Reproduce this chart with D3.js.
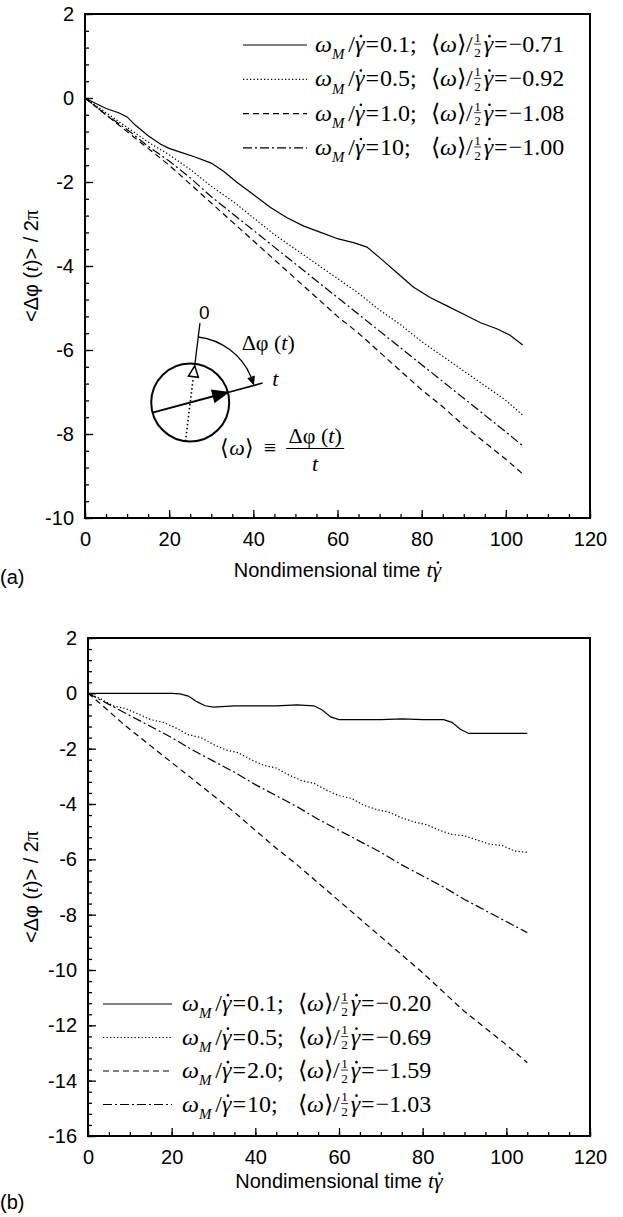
<!DOCTYPE html>
<html>
<head>
<meta charset="utf-8">
<script src="https://cdn.jsdelivr.net/npm/d3@7"></script>
<style>
  body { margin: 0; background: #fff; }
</style>
</head>
<body>
<svg id="chart" width="623" height="1217"></svg>
<script>
/* ---- data ---- */
const ticksX = [0, 20, 40, 60, 80, 100, 120];
const ticksYa = [2, 0, -2, -4, -6, -8, -10];
const ticksYb = [2, 0, -2, -4, -6, -8, -10, -12, -14, -16];

// panel (a): [t, <dphi>/2pi]
const a01 = [[0,0],[2,-0.1],[5,-0.25],[8,-0.35],[10,-0.45],[12,-0.65],[15,-0.9],[18,-1.1],[20,-1.2],[23,-1.3],[26,-1.4],[30,-1.55],[33,-1.75],[36,-2.0],[40,-2.3],[44,-2.6],[48,-2.85],[52,-3.05],[56,-3.2],[60,-3.35],[64,-3.45],[67,-3.55],[70,-3.8],[74,-4.15],[78,-4.5],[82,-4.75],[86,-4.95],[90,-5.15],[94,-5.35],[98,-5.5],[101,-5.65],[104,-5.88]];
const a05 = [[0,0],[5,-0.35],[10,-0.7],[15,-1.05],[20,-1.35],[25,-1.7],[30,-2.1],[35,-2.45],[40,-2.85],[45,-3.25],[50,-3.6],[55,-3.95],[60,-4.3],[65,-4.65],[70,-5.05],[75,-5.4],[80,-5.8],[85,-6.15],[90,-6.5],[95,-6.85],[100,-7.2],[104,-7.55]];
const a10 = [[0,0],[5,-0.4],[10,-0.8],[15,-1.2],[20,-1.6],[25,-2.05],[30,-2.5],[35,-2.95],[40,-3.4],[45,-3.85],[50,-4.3],[55,-4.75],[60,-5.2],[65,-5.6],[70,-6.05],[75,-6.5],[80,-6.95],[85,-7.35],[90,-7.8],[95,-8.2],[100,-8.6],[104,-8.95]];
const a100 = [[0,0],[5,-0.4],[10,-0.75],[15,-1.15],[20,-1.5],[25,-1.9],[30,-2.35],[35,-2.75],[40,-3.15],[45,-3.55],[50,-3.95],[55,-4.35],[60,-4.75],[65,-5.15],[70,-5.55],[75,-5.95],[80,-6.35],[85,-6.75],[90,-7.15],[95,-7.55],[100,-7.95],[104,-8.28]];

// panel (b)
const b01 = [[0,0],[5,0],[10,0],[15,0],[20,0],[22,-0.02],[24,-0.1],[26,-0.3],[28,-0.45],[30,-0.5],[35,-0.45],[40,-0.45],[45,-0.45],[50,-0.42],[54,-0.45],[56,-0.6],[58,-0.85],[60,-0.95],[65,-0.95],[70,-0.95],[75,-0.92],[80,-0.95],[85,-0.95],[87,-1.05],[89,-1.3],[91,-1.45],[95,-1.45],[100,-1.45],[105,-1.45]];
const b05 = [[0,0],[3,-0.2],[6,-0.45],[9,-0.55],[12,-0.75],[15,-0.95],[18,-1.05],[21,-1.25],[24,-1.5],[27,-1.6],[30,-1.85],[33,-2.05],[36,-2.15],[39,-2.4],[42,-2.6],[45,-2.7],[48,-2.95],[51,-3.15],[54,-3.25],[57,-3.5],[60,-3.7],[63,-3.8],[66,-4.05],[69,-4.2],[72,-4.3],[75,-4.5],[78,-4.65],[81,-4.75],[84,-4.95],[87,-5.1],[90,-5.15],[93,-5.3],[96,-5.45],[99,-5.5],[102,-5.7],[105,-5.75]];
const b20 = [[0,0],[2,-0.25],[5,-0.65],[8,-1.05],[10,-1.3],[15,-1.9],[20,-2.5],[25,-3.1],[30,-3.7],[35,-4.3],[40,-4.95],[45,-5.6],[50,-6.2],[55,-6.85],[60,-7.5],[65,-8.15],[70,-8.8],[75,-9.45],[80,-10.1],[85,-10.8],[90,-11.5],[95,-12.1],[100,-12.7],[105,-13.35]];
const b100 = [[0,0],[5,-0.4],[10,-0.8],[15,-1.2],[20,-1.6],[25,-2.05],[30,-2.45],[35,-2.85],[40,-3.3],[45,-3.7],[50,-4.1],[55,-4.55],[60,-4.95],[65,-5.35],[70,-5.75],[75,-6.2],[80,-6.6],[85,-7.0],[90,-7.45],[95,-7.85],[100,-8.25],[105,-8.65]];

const legendA = [["0.1", "0.71"], ["0.5", "0.92"], ["1.0", "1.08"], ["10", "1.00"]];
const legendB = [["0.1", "0.20"], ["0.5", "0.69"], ["2.0", "1.59"], ["10", "1.03"]];

const SANS = "'Liberation Sans', Arial, Helvetica, sans-serif";
const SERIF = "'Liberation Serif', 'Times New Roman', serif";
const DASH = { solid: null, dot: "1.3,2.2", dash: "6,4", dashdot: "9,3,2,3" };

const svg = d3.select('#chart');

let put = (g, x, y, txt, o = {}) => {
  let t = g.append('text')
    .attr('x', x).attr('y', y)
    .attr('font-family', o.font || SERIF)
    .attr('font-size', o.fs || 20)
    .attr('font-style', o.it ? 'italic' : 'normal')
    .attr('text-anchor', o.anchor || 'start')
    .text(txt);
  return t.node().getComputedTextLength();
};

// gamma with a dot on top
let gdot = (g, x, y, fs) => {
  let w = put(g, x, y, 'γ', { it: true, fs: fs });
  g.append('circle').attr('cx', x + w * 0.62).attr('cy', y - fs * 0.66).attr('r', 1.3).attr('fill', '#000');
  return w;
};

let mathRow = (g, x0, y, val, avg, off, fs) => {
  let x = x0;
  x += put(g, x, y, 'ω', { it: true, fs: fs });
  x += put(g, x, y + fs * 0.3, 'M', { it: true, fs: fs * 0.62 });
  x += 4;
  x += put(g, x, y, '/', { fs: fs });
  x += gdot(g, x, y, fs) + 1;
  x += put(g, x, y, '=', { fs: fs }) + 1;
  x += put(g, x, y, val + ';', { fs: fs });
  x = x0 + off;
  x += put(g, x, y, '⟨', { fs: fs });
  x += put(g, x, y, 'ω', { it: true, fs: fs });
  x += put(g, x, y, '⟩', { fs: fs });
  x += put(g, x, y, '/', { fs: fs });
  // small stacked 1/2
  let sf = fs * 0.55;
  put(g, x + 5, y - fs * 0.42, '1', { fs: sf, anchor: 'middle' });
  put(g, x + 5, y + fs * 0.2, '2', { fs: sf, anchor: 'middle' });
  g.append('line').attr('x1', x + 1.5).attr('x2', x + 8.5).attr('y1', y - fs * 0.33).attr('y2', y - fs * 0.33)
    .attr('stroke', '#000').attr('stroke-width', 0.8);
  x += 11;
  x += gdot(g, x, y, fs) + 1;
  x += put(g, x, y, '=', { fs: fs }) + 1;
  put(g, x, y, '−' + avg, { fs: fs });
};

let panel = (cfg) => {
  let g = svg.append('g');
  let x = d3.scaleLinear().domain([0, 120]).range([cfg.left, cfg.right]);
  let y = d3.scaleLinear().domain([cfg.ymin, 2]).range([cfg.bottom, cfg.top]);

  let minorX = d3.range(0, 25).map(i => i * 5);
  let minorY = d3.range(0, Math.round((2 - cfg.ymin) / 0.4) + 1).map(i => +(cfg.ymin + i * 0.4).toFixed(2));

  let clean = s => { s.select('.domain').remove(); s.selectAll('line').attr('stroke-width', 1.3); };

  g.append('g').attr('transform', `translate(0,${cfg.bottom})`)
    .call(d3.axisBottom(x).tickValues(minorX).tickSize(-4).tickFormat('')).call(clean);
  g.append('g').attr('transform', `translate(${cfg.left},0)`)
    .call(d3.axisLeft(y).tickValues(minorY).tickSize(-4).tickFormat('')).call(clean);

  let ax = g.append('g').attr('transform', `translate(0,${cfg.bottom})`)
    .call(d3.axisBottom(x).tickValues(ticksX).tickSize(-8).tickPadding(14).tickFormat(d => String(d))).call(clean);
  let ay = g.append('g').attr('transform', `translate(${cfg.left},0)`)
    .call(d3.axisLeft(y).tickValues(cfg.ticksY).tickSize(-8).tickPadding(11).tickFormat(d => String(d))).call(clean);
  [ax, ay].forEach(a => a.selectAll('text').attr('font-family', SANS).attr('font-size', 20).attr('fill', '#000'));

  g.append('rect')
    .attr('x', cfg.left).attr('y', cfg.top)
    .attr('width', cfg.right - cfg.left).attr('height', cfg.bottom - cfg.top)
    .attr('fill', 'none').attr('stroke', '#000').attr('stroke-width', 2);

  let line = d3.line().x(d => x(d[0])).y(d => y(d[1]));
  cfg.series.forEach(s => {
    g.append('path').datum(s.data)
      .attr('d', line)
      .attr('fill', 'none').attr('stroke', '#000').attr('stroke-width', 1.2)
      .attr('stroke-dasharray', DASH[s.style]);
  });

  // legend
  cfg.legend.forEach((row, i) => {
    let ly = cfg.legY + i * cfg.legStep;
    g.append('line').attr('x1', cfg.legX1).attr('x2', cfg.legX2).attr('y1', ly).attr('y2', ly)
      .attr('stroke', '#000').attr('stroke-width', 1.2).attr('stroke-dasharray', DASH[cfg.series[i].style]);
    mathRow(g, cfg.legText, ly + 7, row[0], row[1], 116, 24);
  });

  // axis titles
  let yl = g.append('text')
    .attr('transform', `translate(38,${(cfg.top + cfg.bottom) / 2}) rotate(-90)`)
    .attr('text-anchor', 'middle').attr('font-family', SANS).attr('font-size', 20);
  yl.append('tspan').text('<Δφ (');
  yl.append('tspan').attr('font-family', SERIF).attr('font-style', 'italic').text('t');
  yl.append('tspan').text(')> / 2');
  yl.append('tspan').attr('font-family', SERIF).text('π');

  let xl = g.append('g');
  let w = put(xl, 0, 0, 'Nondimensional time', { font: SANS, fs: 20 }) + 6;
  w += put(xl, w, 0, 't', { it: true, fs: 22 });
  w += gdot(xl, w, 0, 22);
  xl.attr('transform', `translate(${(cfg.left + cfg.right) / 2 - w / 2},${cfg.xlabY})`);

  put(g, 0, cfg.tagY, cfg.tag, { font: SANS, fs: 20 });

  return { x: x, y: y, g: g };
};

let pa = panel({
  left: 85, right: 590, top: 14, bottom: 518, ymin: -10, ticksY: ticksYa,
  series: [{ data: a01, style: 'solid' }, { data: a05, style: 'dot' }, { data: a10, style: 'dash' }, { data: a100, style: 'dashdot' }],
  legend: legendA, legY: 45, legStep: 34.3, legX1: 243, legX2: 307, legText: 315,
  xlabY: 577, tag: '(a)', tagY: 584
});

panel({
  left: 88, right: 590, top: 638, bottom: 1136, ymin: -16, ticksY: ticksYb,
  series: [{ data: b01, style: 'solid' }, { data: b05, style: 'dot' }, { data: b20, style: 'dash' }, { data: b100, style: 'dashdot' }],
  legend: legendB, legY: 1004, legStep: 33.5, legX1: 103, legX2: 172, legText: 182,
  xlabY: 1188, tag: '(b)', tagY: 1209
});

/* ---- inset sketch in panel (a) ---- */
(() => {
  let g = pa.g.append('g');
  let cx = pa.x(25), cy = pa.y(-7.25), R = 39;
  let a0 = 7 * Math.PI / 180, a1 = 75 * Math.PI / 180;
  let pt = (s, a) => [cx + s * Math.sin(a), cy - s * Math.cos(a)];
  let perp = (p, a, d) => [p[0] + d * Math.cos(a), p[1] + d * Math.sin(a)];
  let seg = (p, q, wdt, dash) => g.append('line')
    .attr('x1', p[0]).attr('y1', p[1]).attr('x2', q[0]).attr('y2', q[1])
    .attr('stroke', '#000').attr('stroke-width', wdt).attr('stroke-dasharray', dash || null);
  let tri = (tip, base, a, hw, fill) => {
    let b1 = perp(base, a, hw), b2 = perp(base, a, -hw);
    g.append('path').attr('d', `M${tip}L${b1}L${b2}Z`)
      .attr('fill', fill).attr('stroke', '#000').attr('stroke-width', 1.5);
  };

  g.append('circle').attr('cx', cx).attr('cy', cy).attr('r', R)
    .attr('fill', 'none').attr('stroke', '#000').attr('stroke-width', 2);

  seg(pt(-39, a0), pt(25, a0), 1.6, '1.5,2.5');
  tri(pt(37, a0), pt(26, a0), a0, 5, '#fff');
  seg(pt(37, a0), pt(80, a0), 1.3);
  put(g, cx + 14, cy - 84, '0', { font: SANS, fs: 19, anchor: 'middle' });

  seg(pt(-39, a1), pt(26, a1), 2);
  seg(pt(37, a1), pt(75, a1), 1.6);
  tri(pt(39, a1), pt(24, a1), a1, 6, '#000');
  put(g, cx + 82, cy - 17, 't', { it: true, fs: 22 });

  // arc from reference line to the current direction
  let r = 66, aEnd = a1 - 9 / r;
  let p0 = pt(r, a0), p1 = pt(r, aEnd);
  g.append('path').attr('d', `M${p0}A${r},${r} 0 0 1 ${p1}`)
    .attr('fill', 'none').attr('stroke', '#000').attr('stroke-width', 1.3);
  let tip = pt(r, a1), bc = pt(r, aEnd);
  let ta = Math.atan2(tip[1] - bc[1], tip[0] - bc[0]);
  let b1 = [bc[0] - 4 * Math.sin(ta), bc[1] + 4 * Math.cos(ta)], b2 = [bc[0] + 4 * Math.sin(ta), bc[1] - 4 * Math.cos(ta)];
  g.append('path').attr('d', `M${tip}L${b1}L${b2}Z`).attr('fill', '#000');

  let dl = g.append('text').attr('x', cx + 78).attr('y', cy - 53)
    .attr('text-anchor', 'middle').attr('font-family', SERIF).attr('font-size', 22);
  dl.append('tspan').text('Δφ (');
  dl.append('tspan').attr('font-style', 'italic').text('t');
  dl.append('tspan').text(')');

  // <w> = dphi(t) / t
  let x = cx + 30, yb = cy + 52;
  x += put(g, x, yb, '⟨', { fs: 22 });
  x += put(g, x, yb, 'ω', { it: true, fs: 22 });
  x += put(g, x, yb, '⟩', { fs: 22 });
  x += 10;
  x += put(g, x, yb, '≡', { fs: 22 });
  x += 10;
  let fx = x, fw = 58;
  g.append('line').attr('x1', fx).attr('x2', fx + fw).attr('y1', yb - 6).attr('y2', yb - 6)
    .attr('stroke', '#000').attr('stroke-width', 1.2);
  let nl = g.append('text').attr('x', fx + fw / 2).attr('y', yb - 12)
    .attr('text-anchor', 'middle').attr('font-family', SERIF).attr('font-size', 22);
  nl.append('tspan').text('Δφ (');
  nl.append('tspan').attr('font-style', 'italic').text('t');
  nl.append('tspan').text(')');
  put(g, fx + fw / 2, yb + 16, 't', { it: true, fs: 22, anchor: 'middle' });
})();
</script>
</body>
</html>
